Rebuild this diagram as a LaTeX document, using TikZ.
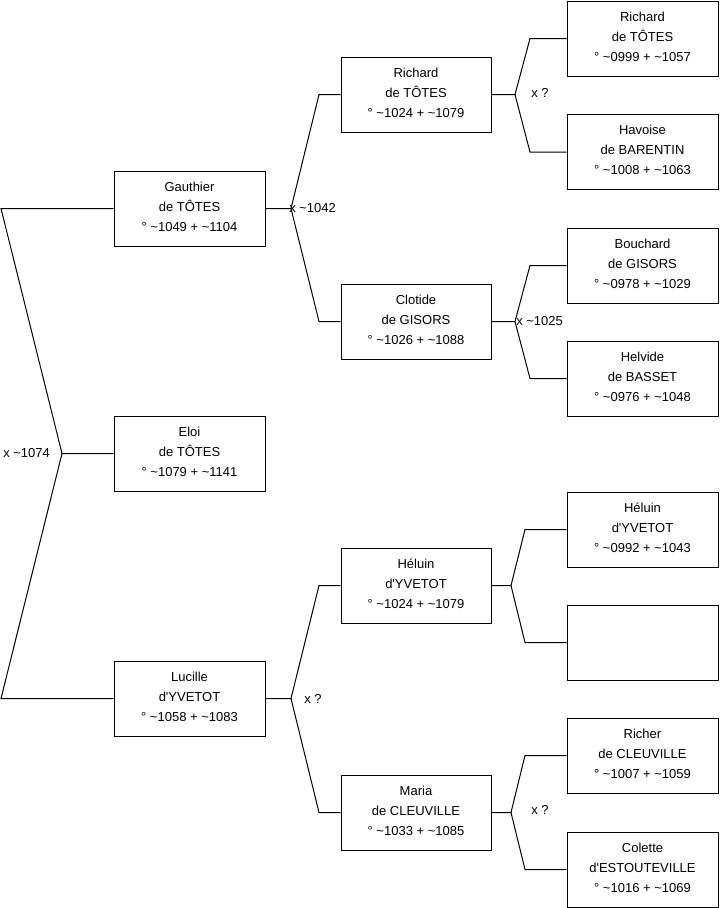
\documentclass[tikz,border=0pt]{standalone}
\usepackage{fontspec}
\newfontfamily\lsans{Liberation Sans}
\newcommand\tld{\textasciitilde}
\begin{document}
\begin{tikzpicture}[x=0.75pt,y=-0.75pt,
  box/.style={draw=black,line width=0.75pt,rectangle,minimum height=56.25pt,inner sep=0pt,text depth=3pt,align=center,font=\lsans\fontsize{9.75}{15}\selectfont},
  wbox/.style={box,minimum width=113.25pt},
  nbox/.style={box,minimum width=112.5pt},
  link/.style={line width=0.75pt,black},
  lbl/.style={anchor=west,inner sep=0pt,font=\lsans\fontsize{9.75}{12}\selectfont}]
\useasboundingbox (0,0) rectangle (719,908);
\fill[white] (0,0) rectangle (719,908);
% level 1
\node[wbox] (eloi) at (189.5,453.5) {Eloi\\de TÔTES\\° \tld1079 + \tld1141};
\node[wbox] (gauthier) at (189.5,208.5) {Gauthier\\de TÔTES\\° \tld1049 + \tld1104};
\node[wbox] (lucille) at (189.5,698.5) {Lucille\\d'YVETOT\\° \tld1058 + \tld1083};
% level 2
\node[nbox] (richard2) at (416,94.5) {Richard\\de TÔTES\\° \tld1024 + \tld1079};
\node[nbox] (clotide) at (416,321.5) {Clotide\\de GISORS\\° \tld1026 + \tld1088};
\node[nbox] (heluin2) at (416,585.5) {Héluin\\d'YVETOT\\° \tld1024 + \tld1079};
\node[nbox] (maria) at (416,812.5) {Maria\\de CLEUVILLE\\° \tld1033 + \tld1085};
% level 3
\node[wbox] (richard3) at (642.5,38.5) {Richard\\de TÔTES\\° \tld0999 + \tld1057};
\node[wbox] (havoise) at (642.5,152) {Havoise\\de BARENTIN\\° \tld1008 + \tld1063};
\node[wbox] (bouchard) at (642.5,265.5) {Bouchard\\de GISORS\\° \tld0978 + \tld1029};
\node[wbox] (helvide) at (642.5,378.5) {Helvide\\de BASSET\\° \tld0976 + \tld1048};
\node[wbox] (heluin3) at (642.5,529.5) {Héluin\\d'YVETOT\\° \tld0992 + \tld1043};
\node[wbox] (empty) at (642.5,642.5) {};
\node[wbox] (richer) at (642.5,755.5) {Richer\\de CLEUVILLE\\° \tld1007 + \tld1059};
\node[wbox] (colette) at (642.5,869.5) {Colette\\d'ESTOUTEVILLE\\° \tld1016 + \tld1069};
% junctions
\coordinate (j0) at (62,453.5);
\coordinate (j0a) at (1,208.5);
\coordinate (j0b) at (1,698.5);
\coordinate (j1) at (291,208.5);
\coordinate (j1a) at (319,94.5);
\coordinate (j1b) at (319,321.5);
\coordinate (j2) at (291,698.5);
\coordinate (j2a) at (319,585.5);
\coordinate (j2b) at (319,812.5);
\coordinate (j3) at (515,94.5);
\coordinate (j3a) at (530,38.5);
\coordinate (j3b) at (530,152);
\coordinate (j4) at (515,321.5);
\coordinate (j4a) at (530,265.5);
\coordinate (j4b) at (530,378.5);
\coordinate (j5) at (511,585.5);
\coordinate (j5a) at (525,529.5);
\coordinate (j5b) at (525,642.5);
\coordinate (j6) at (511,812.5);
\coordinate (j6a) at (525,755.5);
\coordinate (j6b) at (525,869.5);
% connectors
\draw[link] (eloi.west) -- (j0) -- (j0a) -- (gauthier.west);
\draw[link] (j0) -- (j0b) -- (lucille.west);
\draw[link] (gauthier.east) -- (j1) -- (j1a) -- (richard2.west);
\draw[link] (j1) -- (j1b) -- (clotide.west);
\draw[link] (lucille.east) -- (j2) -- (j2a) -- (heluin2.west);
\draw[link] (j2) -- (j2b) -- (maria.west);
\draw[link] (richard2.east) -- (j3) -- (j3a) -- (richard3.west);
\draw[link] (j3) -- (j3b) -- (havoise.west);
\draw[link] (clotide.east) -- (j4) -- (j4a) -- (bouchard.west);
\draw[link] (j4) -- (j4b) -- (helvide.west);
\draw[link] (heluin2.east) -- (j5) -- (j5a) -- (heluin3.west);
\draw[link] (j5) -- (j5b) -- (empty.west);
\draw[link] (maria.east) -- (j6) -- (j6a) -- (richer.west);
\draw[link] (j6) -- (j6b) -- (colette.west);
% labels
\node[lbl] (l0) at (3,453.5) {x \tld1074};
\node[lbl] (l1) at (289,208.5) {x \tld1042};
\node[lbl] (l2) at (304,698.5) {x ?};
\node[lbl] (l3) at (531,93) {x ?};
\node[lbl] (l4) at (516,321.5) {x \tld1025};
\node[lbl] (l6) at (531,810) {x ?};
\end{tikzpicture}
\end{document}
